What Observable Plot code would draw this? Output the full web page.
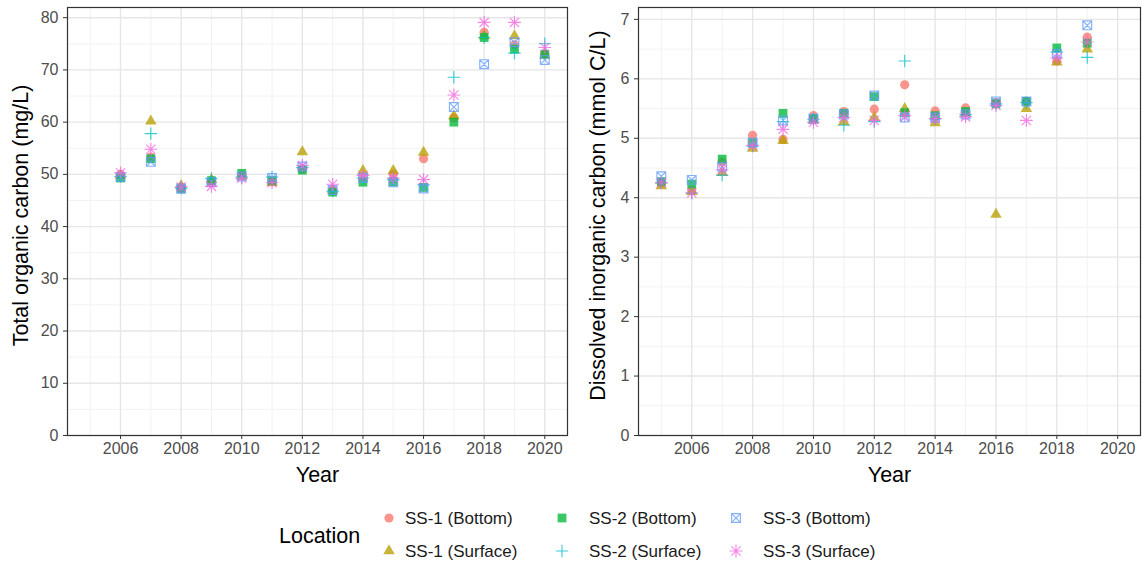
<!DOCTYPE html>
<html>
<head>
<meta charset="utf-8">
<script src="https://cdn.jsdelivr.net/npm/d3@7"></script>
<script src="https://cdn.jsdelivr.net/npm/@observablehq/plot@0.6"></script>
<style>
  body { margin: 0; background: #fff; }
  #chart { position: relative; width: 1142px; height: 565px; background: #fff;
           font-family: "Liberation Sans", Arial, Helvetica, sans-serif; }
  #chart > svg { position: absolute; }
</style>
</head>
<body>
<div id="chart"></div>
<script>
// ---------------- data ----------------
const locations = ["SS-1 (Bottom)", "SS-1 (Surface)", "SS-2 (Bottom)", "SS-2 (Surface)", "SS-3 (Bottom)", "SS-3 (Surface)"];
const colors = ["#F8766D", "#B79F00", "#00BA38", "#00BFC4", "#619CFF", "#F564E3"];

// Total organic carbon (mg/L), 2006–2020
const tocYears = [2006, 2007, 2008, 2009, 2010, 2011, 2012, 2013, 2014, 2015, 2016, 2017, 2018, 2019, 2020];
const tocSS1B = [50.0, 53.3, 47.5, 48.6, 49.8, 48.6, 51.0, 46.8, 49.5, 50.0, 53.0, 60.8, 77.2, 74.8, 73.0];
const tocSS1S = [49.8, 60.2, 47.8, 49.0, 49.6, 48.4, 54.3, 47.0, 50.7, 50.7, 54.2, 61.2, 76.5, 76.5, 72.8];
const tocSS2B = [49.3, 53.0, 47.2, 48.8, 50.2, 48.8, 50.8, 46.6, 48.5, 48.6, 47.5, 60.0, 76.2, 74.0, 73.0];
const tocSS2S = [49.6, 57.8, 47.4, 49.2, 49.5, 49.5, 51.3, 46.8, 49.3, 49.0, 48.0, 68.6, 76.2, 73.2, 75.0];
const tocSS3B = [49.5, 52.4, 47.3, 48.5, 49.6, 49.3, 51.5, 47.0, 49.3, 48.5, 47.3, 62.9, 71.1, 75.3, 71.9];
const tocSS3S = [50.3, 54.8, 47.6, 47.7, 49.3, 48.4, 51.7, 48.1, 49.8, 49.3, 49.0, 65.2, 79.1, 79.1, 74.3];

// Dissolved inorganic carbon (mmol C/L), 2005–2019
const dicYears = [2005, 2006, 2007, 2008, 2009, 2010, 2011, 2012, 2013, 2014, 2015, 2016, 2017, 2018, 2019];
const dicSS1B = [4.25, 4.12, 4.60, 5.05, 4.98, 5.38, 5.45, 5.49, 5.90, 5.46, 5.51, 5.60, 5.62, 6.30, 6.70];
const dicSS1S = [4.20, 4.10, 4.42, 4.83, 4.96, 5.30, 5.28, 5.35, 5.50, 5.26, 5.42, 3.72, 5.50, 6.28, 6.50];
const dicSS2B = [4.27, 4.23, 4.65, 4.92, 5.42, 5.33, 5.42, 5.70, 5.43, 5.38, 5.45, 5.58, 5.62, 6.52, 6.60];
const dicSS2S = [4.25, 4.08, 4.38, 4.87, 5.28, 5.32, 5.22, 5.28, 6.30, 5.33, 5.40, 5.58, 5.60, 6.45, 6.36];
const dicSS3B = [4.36, 4.30, 4.52, 4.93, 5.30, 5.33, 5.40, 5.72, 5.35, 5.35, 5.40, 5.62, 5.62, 6.42, 6.90];
const dicSS3S = [4.25, 4.08, 4.47, 4.88, 5.15, 5.27, 5.35, 5.30, 5.38, 5.33, 5.36, 5.55, 5.30, 6.35, 6.62];

// axis ticks
const xTicks = [2006, 2008, 2010, 2012, 2014, 2016, 2018, 2020];
const xMinor = [2005, 2007, 2009, 2011, 2013, 2015, 2017, 2019];
const tocTicks = [0, 10, 20, 30, 40, 50, 60, 70, 80];
const tocMinor = [5, 15, 25, 35, 45, 55, 65, 75];
const dicTicks = [0, 1, 2, 3, 4, 5, 6, 7];
const dicMinor = [0.5, 1.5, 2.5, 3.5, 4.5, 5.5, 6.5];

// ---------------- symbols (ggplot shapes 16,17,15,3,7,8) ----------------
const symCircle = {draw(c) { const r = 4.6; c.moveTo(r, 0); c.arc(0, 0, r, 0, 2 * Math.PI); c.closePath(); }};
const symTriangle = {draw(c) { const s = 11.5, h = s * Math.sqrt(3) / 2;
  c.moveTo(0, -2 * h / 3); c.lineTo(s / 2, h / 3); c.lineTo(-s / 2, h / 3); c.closePath(); }};
const symSquare = {draw(c) { const a = 4.4; c.moveTo(-a, -a); c.lineTo(a, -a); c.lineTo(a, a); c.lineTo(-a, a); c.closePath(); }};
const symPlus = {draw(c) { const a = 6.2; c.moveTo(-a, 0); c.lineTo(a, 0); c.moveTo(0, -a); c.lineTo(0, a); }};
const symSquareX = {draw(c) { const a = 4.4; c.moveTo(-a, -a); c.lineTo(a, -a); c.lineTo(a, a); c.lineTo(-a, a); c.closePath();
  c.moveTo(-a, -a); c.lineTo(a, a); c.moveTo(a, -a); c.lineTo(-a, a); }};
const symStar = {draw(c) { const a = 6.4, d = 4.6; c.moveTo(-a, 0); c.lineTo(a, 0); c.moveTo(0, -a); c.lineTo(0, a);
  c.moveTo(-d, -d); c.lineTo(d, d); c.moveTo(d, -d); c.lineTo(-d, d); }};
const symbols = [symCircle, symTriangle, symSquare, symPlus, symSquareX, symStar];
const filled = [true, true, true, false, false, false];
const ALPHA = 0.78;

const FONT = '"Liberation Sans", Arial, Helvetica, sans-serif';
const TITLE_SIZE = 21.5;

function seriesMarks(years, seriesList) {
  return seriesList.map((vals, i) => {
    const data = years.map((yr, j) => ({year: yr, value: vals[j]}));
    return Plot.dot(data, {
      x: "year", y: "value", symbol: symbols[i], r: 4.5,
      fill: filled[i] ? colors[i] : "none",
      stroke: filled[i] ? "none" : colors[i],
      strokeWidth: filled[i] ? 0 : 1.15,
      opacity: ALPHA
    });
  });
}

function panel({years, series, yDomain, yTicks, yMinor, yLabel, marginRight, labelDx}) {
  return Plot.plot({
    width: 571, height: 490,
    marginLeft: 67, marginRight, marginTop: 7, marginBottom: 55,
    x: {domain: [2004.25, 2020.75]},
    y: {domain: yDomain},
    style: {fontFamily: FONT, fontSize: "16px", color: "#4D4D4D", background: "transparent", overflow: "visible"},
    marks: [
      Plot.ruleX(xMinor, {stroke: "#F2F2F2", strokeWidth: 1}),
      Plot.ruleY(yMinor, {stroke: "#F2F2F2", strokeWidth: 1}),
      Plot.ruleX(xTicks, {stroke: "#E6E6E6", strokeWidth: 1.4}),
      Plot.ruleY(yTicks, {stroke: "#E6E6E6", strokeWidth: 1.4}),
      ...seriesMarks(years, series),
      Plot.frame({stroke: "#333333", strokeWidth: 1.2}),
      Plot.axisX(xTicks, {tickSize: 4, tickPadding: 3, tickFormat: d => String(d), label: null,
        stroke: "#333333", color: "#4D4D4D", fontSize: 16}),
      Plot.axisY(yTicks, {tickSize: 4, tickPadding: 5, tickFormat: d => String(d), label: null,
        stroke: "#333333", color: "#4D4D4D", fontSize: 16}),
      Plot.text(["Year"], {text: d => d, frameAnchor: "bottom", dy: 40, lineAnchor: "middle",
        textAnchor: "middle", fontSize: TITLE_SIZE, fill: "#000"}),
      Plot.text([yLabel], {text: d => d, frameAnchor: "left", dx: labelDx, dy: -6, rotate: -90, lineAnchor: "middle",
        textAnchor: "middle", fontSize: TITLE_SIZE, fill: "#000"})
    ]
  });
}

const chart = document.getElementById("chart");

const left = panel({
  years: tocYears,
  series: [tocSS1B, tocSS1S, tocSS2B, tocSS2S, tocSS3B, tocSS3S],
  yDomain: [0, 81.95], yTicks: tocTicks, yMinor: tocMinor,
  yLabel: "Total organic carbon (mg/L)", marginRight: 4, labelDx: -46
});
left.style.left = "0px"; left.style.top = "0px";
chart.appendChild(left);

const right = panel({
  years: dicYears,
  series: [dicSS1B, dicSS1S, dicSS2B, dicSS2S, dicSS3B, dicSS3S],
  yDomain: [0, 7.2], yTicks: dicTicks, yMinor: dicMinor,
  yLabel: "Dissolved inorganic carbon (mmol C/L)", marginRight: 2, labelDx: -40
});
right.style.left = "571px"; right.style.top = "0px";
chart.appendChild(right);

// ---------------- legend ----------------
const legend = d3.create("svg").attr("width", 1142).attr("height", 75)
  .style("left", "0px").style("top", "490px")
  .attr("font-family", FONT);
legend.append("text").attr("x", 279).attr("y", 45).attr("dy", "0.35em")
  .attr("font-size", TITLE_SIZE).attr("fill", "#000").text("Location");
const colX = [389, 562, 736];
const labX = [405, 589, 763];
const rowY = [28, 61];
locations.forEach((loc, i) => {
  const col = Math.floor(i / 2), row = i % 2;
  const g = legend.append("g");
  g.append("path")
    .attr("transform", `translate(${colX[col]},${rowY[row]})`)
    .attr("d", d3.symbol().type(symbols[i])())
    .attr("fill", filled[i] ? colors[i] : "none")
    .attr("stroke", filled[i] ? "none" : colors[i])
    .attr("stroke-width", 1.15)
    .attr("opacity", ALPHA);
  g.append("text").attr("x", labX[col]).attr("y", rowY[row]).attr("dy", "0.35em")
    .attr("font-size", 17).attr("fill", "#1A1A1A").text(loc);
});
chart.appendChild(legend.node());
</script>
</body>
</html>
